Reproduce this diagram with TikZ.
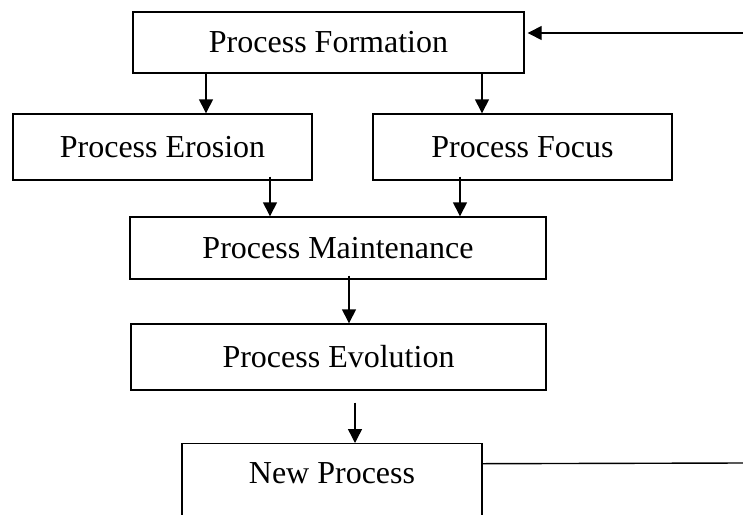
\documentclass[tikz,border=0pt]{standalone}
\usepackage{fontspec}
\setmainfont{Liberation Serif}
\usetikzlibrary{arrows.meta}
\begin{document}
\begin{tikzpicture}[x=1pt,y=-1pt,
  stagebox/.style={draw, line width=1.4pt, inner sep=0pt, font=\fontsize{32}{38}\selectfont},
  arr/.style={line width=1.4pt, -{Triangle[length=14pt,width=14pt]}},
  link/.style={line width=1.4pt}]
\useasboundingbox (0,0) rectangle (743,514);
\clip (0,0) rectangle (743,514);

% stages of the process life cycle
\node[stagebox, minimum width=391pt, minimum height=61pt] (form) at (328.5,42.5) {Process Formation};
\node[stagebox, minimum width=299pt, minimum height=66pt] (erosion) at (162.5,147) {Process Erosion};
\node[stagebox, minimum width=299pt, minimum height=66pt] (focus) at (522.5,147) {Process Focus};
\node[stagebox, minimum width=416pt, minimum height=62pt] (maint) at (338,248) {Process Maintenance};
\node[stagebox, minimum width=415pt, minimum height=66pt] (evol) at (338.5,357) {Process Evolution};
\node[stagebox, minimum width=300pt, text height=40pt, text depth=60pt, anchor=north] (new) at (332,443) {New Process};

% loose ends of the feedback loop at the right margin
\coordinate (loopin) at (743,33);
\coordinate (loopout) at (743,463);

% flow between stages
\draw[arr] ([xshift=-122.5pt]form.south) -- ([xshift=43.5pt]erosion.north);
\draw[arr] ([xshift=153.5pt]form.south) -- ([xshift=-40.5pt]focus.north);
\draw[arr] ([xshift=107.5pt,yshift=4pt]erosion.south) -- ([xshift=-68pt]maint.north);
\draw[arr] ([xshift=-62.5pt,yshift=4pt]focus.south) -- ([xshift=122pt]maint.north);
\draw[arr] ([xshift=11pt,yshift=4pt]maint.south) -- ([xshift=10.5pt]evol.north);
\draw[arr] ([xshift=16.5pt,yshift=-12pt]evol.south) -- ([xshift=23pt]new.north);

% feedback from the new process back to formation
\draw[link] ([yshift=30pt]new.east) -- (loopout);
\draw[arr] (loopin) -- ([xshift=3pt,yshift=9.5pt]form.east);
\end{tikzpicture}
\end{document}
